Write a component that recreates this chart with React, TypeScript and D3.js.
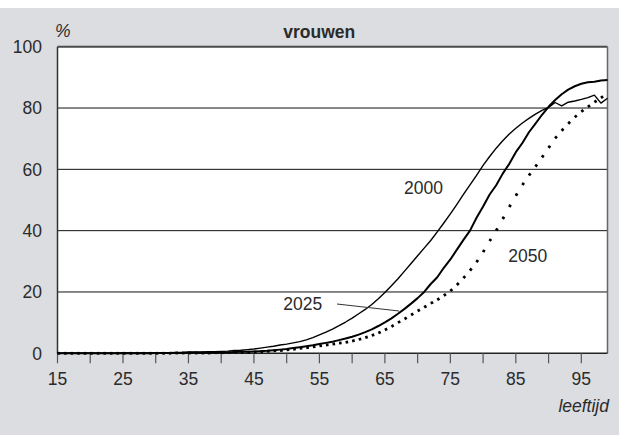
import React from "react";
import * as d3 from "d3";

const ages = [
  15, 16, 17, 18, 19, 20, 21, 22, 23, 24, 25, 26, 27, 28, 29,
  30, 31, 32, 33, 34, 35, 36, 37, 38, 39, 40, 41, 42, 43, 44,
  45, 46, 47, 48, 49, 50, 51, 52, 53, 54, 55, 56, 57, 58, 59,
  60, 61, 62, 63, 64, 65, 66, 67, 68, 69, 70, 71, 72, 73, 74,
  75, 76, 77, 78, 79, 80, 81, 82, 83, 84, 85, 86, 87, 88, 89,
  90, 91, 92, 93, 94, 95, 96, 97, 98, 99,
];

const v2000 = [
  0, 0, 0, 0, 0, 0, 0, 0, 0, 0, 0.1, 0.1, 0.1, 0.1, 0.1,
  0.2, 0.2, 0.2, 0.3, 0.3, 0.4, 0.4, 0.4, 0.5, 0.5, 0.6, 0.7, 0.9, 1.0, 1.2,
  1.4, 1.7, 2.0, 2.3, 2.7, 3.0, 3.4, 3.8, 4.4, 5.1, 6.0, 6.9, 7.9, 9.0, 10.2,
  11.5, 12.9, 14.3, 15.9, 17.8, 19.8, 22.0, 24.3, 26.8, 29.3, 31.8, 34.3, 36.8, 39.6, 42.5,
  45.5, 48.6, 51.8, 54.9, 58.0, 61.3, 64.2, 66.9, 69.3, 71.5, 73.4, 75.1, 76.6, 78.0, 79.2,
  80.2, 81.8, 80.7, 81.9, 82.3, 82.8, 83.4, 84.2, 81.6, 83.2,
];

const v2025 = [
  0, 0, 0, 0, 0, 0, 0, 0, 0, 0, 0, 0, 0, 0, 0,
  0.1, 0.1, 0.1, 0.1, 0.1, 0.2, 0.2, 0.2, 0.2, 0.3, 0.3, 0.3, 0.4, 0.5, 0.5,
  0.6, 0.7, 0.8, 1.0, 1.2, 1.4, 1.7, 2.0, 2.3, 2.6, 3.0, 3.4, 3.8, 4.3, 4.8,
  5.4, 6.1, 6.9, 7.8, 8.9, 10.1, 11.4, 12.9, 14.5, 16.2, 18.0, 20.0, 22.6, 24.8, 27.9,
  30.6, 33.8, 37.0, 40.0, 44.2, 47.9, 51.8, 54.8, 58.6, 61.8, 65.6, 68.6, 72.1, 74.9, 77.8,
  80.4, 82.6, 84.5, 86.0, 87.1, 87.9, 88.4, 88.6, 89.0, 89.1,
];

const v2050 = [
  0, 0, 0, 0, 0, 0, 0, 0, 0, 0, 0, 0, 0, 0, 0,
  0, 0, 0, 0.1, 0.1, 0.1, 0.1, 0.1, 0.1, 0.2, 0.2, 0.2, 0.3, 0.3, 0.3,
  0.4, 0.5, 0.6, 0.8, 0.9, 1.1, 1.3, 1.6, 1.8, 2.1, 2.4, 2.7, 3.0, 3.3, 3.6,
  4.0, 4.5, 5.1, 5.8, 6.6, 7.6, 8.7, 10.0, 11.2, 12.5, 13.8, 15.0, 16.3, 17.4, 18.8,
  20.3, 22.3, 24.5, 27.0, 29.7, 33.0, 36.6, 40.0, 43.8, 47.7, 51.4, 54.9, 58.0, 60.9, 63.9,
  67.0, 70.1, 72.6, 74.9, 77.0, 78.8, 80.4, 81.9, 83.3, 84.8,
];

const xTicks = [15, 20, 25, 30, 35, 40, 45, 50, 55, 60, 65, 70, 75, 80, 85, 90, 95];
const xLabels = [15, 25, 35, 45, 55, 65, 75, 85, 95];
const yTicks = [0, 20, 40, 60, 80, 100];
const yGrid = [20, 40, 60, 80];

const FONT = "'Liberation Sans', Arial, Helvetica, sans-serif";
const TEXT = "#2b2b2b";

export default function App() {
  const W = 619;
  const H = 435;
  const L = 57.5, R = 607.5, T = 46.7, B = 353.3;
  const x = d3.scaleLinear().domain([15, 99]).range([L, R]);
  const y = d3.scaleLinear().domain([0, 100]).range([B, T]);

  const line = d3
    .line<number>()
    .x((_, i) => x(ages[i]))
    .y((d) => y(d));

  // dotted 2050: one short dash at each yearly point, oriented along the segment
  const dashes = v2050.slice(0, -1).map((v, i) => {
    const x0 = x(ages[i]), y0 = y(v);
    const x1 = x(ages[i + 1]), y1 = y(v2050[i + 1]);
    const len = Math.hypot(x1 - x0, y1 - y0);
    const dl = 2.6;
    return { x0, y0, x1: x0 + ((x1 - x0) * dl) / len, y1: y0 + ((y1 - y0) * dl) / len };
  });

  const fs = 17.5;

  return (
    <svg
      width={W}
      height={H}
      style={{ position: "absolute", left: 0, top: 0, display: "block" }}
      fontFamily={FONT}
    >
      <rect x={0} y={0} width={W} height={H} fill="#ffffff" />
      <rect x={0} y={8} width={W} height={H - 8} fill="#dcdde0" />
      <rect x={L} y={T} width={R - L} height={B - T} fill="#ffffff" />

      {yGrid.map((g) => (
        <line key={g} x1={L} x2={R} y1={y(g)} y2={y(g)} stroke="#111" strokeWidth={1} />
      ))}

      {/* border */}
      <line x1={L} x2={R} y1={T} y2={T} stroke="#4a4a4a" strokeWidth={2} />
      <line x1={R} x2={R} y1={T} y2={B} stroke="#666" strokeWidth={1.5} />
      <line x1={L} x2={L} y1={T} y2={B} stroke="#333" strokeWidth={1.5} />
      <line x1={L} x2={R} y1={B} y2={B} stroke="#222" strokeWidth={1.5} />

      {xTicks.map((t) => (
        <line key={t} x1={x(t)} x2={x(t)} y1={B} y2={B + 10} stroke="#555" strokeWidth={1.2} />
      ))}

      {xLabels.map((t) => (
        <text key={t} x={x(t)} y={385} fontSize={fs} fill={TEXT} textAnchor="middle">
          {t}
        </text>
      ))}
      {yTicks.map((t) => (
        <text key={t} x={42} y={y(t) + 6.3} fontSize={fs} fill={TEXT} textAnchor="end">
          {t}
        </text>
      ))}

      <text x={55} y={36.5} fontSize={fs} fill={TEXT} fontStyle="italic">%</text>
      <text x={319.3} y={38} fontSize={fs} fill={TEXT} fontWeight="bold" textAnchor="middle">
        vrouwen
      </text>
      <text x={609} y={412} fontSize={fs} fill={TEXT} fontStyle="italic" textAnchor="end">
        leeftijd
      </text>

      {/* series */}
      <g>
        {dashes.map((d, i) => (
          <line key={i} x1={d.x0} y1={d.y0} x2={d.x1} y2={d.y1} stroke="#000" strokeWidth={2.8} />
        ))}
      </g>
      <path d={line(v2025) || ""} fill="none" stroke="#000" strokeWidth={2} strokeLinejoin="round" />
      <path d={line(v2000) || ""} fill="none" stroke="#000" strokeWidth={1.4} strokeLinejoin="round" />

      {/* labels */}
      <text x={404} y={194.3} fontSize={fs} fill={TEXT}>2000</text>
      <text x={283.3} y={310} fontSize={fs} fill={TEXT}>2025</text>
      <text x={508.3} y={261.7} fontSize={fs} fill={TEXT}>2050</text>
      <line x1={337} y1={304} x2={399} y2={311} stroke="#333" strokeWidth={1} />
    </svg>
  );
}
